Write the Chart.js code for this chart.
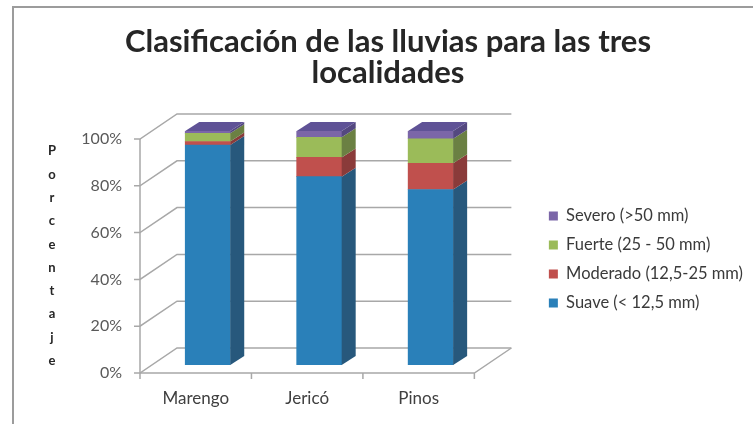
<!DOCTYPE html>
<html>
<head>
<meta charset="utf-8">
<script src="https://cdn.jsdelivr.net/npm/chart.js@4.4.1/dist/chart.umd.min.js"></script>
<style>
  html, body { margin: 0; padding: 0; background: #fff; }
</style>
</head>
<body>
<canvas id="lluviasChart" width="753" height="424"></canvas>
<script>
// datos (% de lluvias por clase)
const localidades = ['Marengo', 'Jericó', 'Pinos'];
const suave = [94, 80.5, 75];
const moderado = [1.5, 8.2, 11.2];
const fuerte = [3.5, 8.6, 10.5];
const severo = [1, 2.7, 3.3];
const yTicks = [0, 20, 40, 60, 80, 100];
const ejeY = 'Porcentaje';

const frente = ['#2A80B9', '#C0504D', '#9BBB59', '#7B66A8'];
const lados = ['#27587C', '#8A3B3A', '#6B8043', '#544880'];
const tapa = '#5F5296';

// desplazamientos del efecto 3D respecto al plano de las barras
const FRENTE = { dx: -12, dy: 8 };
const FONDO = { dx: 25, dy: -17 };
const PROF = { dx: 14, dy: -9 };

Chart.defaults.font.family = 'Lato, "Open Sans", sans-serif';

const plano3d = {
  id: 'plano3d',
  beforeDatasetsDraw(chart) {
    const { ctx, chartArea: a, scales: { x, y } } = chart;
    ctx.save();
    // marco
    ctx.strokeStyle = '#9c9c9c';
    ctx.lineWidth = 2;
    ctx.strokeRect(13, 7, chart.width, chart.height);

    ctx.strokeStyle = '#a8a8a8';
    ctx.lineWidth = 1.5;
    const fl = a.left + FRENTE.dx, fr = a.right + FRENTE.dx;
    const bl = a.left + FONDO.dx, br = a.right + FONDO.dx;
    y.ticks.forEach(t => {
      const py = y.getPixelForValue(t.value);
      ctx.beginPath();
      ctx.moveTo(fl - 6, py + FRENTE.dy);
      ctx.lineTo(fl, py + FRENTE.dy);
      ctx.lineTo(bl, py + FONDO.dy);
      ctx.lineTo(br, py + FONDO.dy);
      ctx.stroke();
    });
    const y0 = y.getPixelForValue(0), y1 = y.getPixelForValue(100);
    ctx.beginPath();
    ctx.moveTo(fl, y1 + FRENTE.dy);
    ctx.lineTo(fl, y0 + FRENTE.dy);
    ctx.lineTo(fr, y0 + FRENTE.dy);
    ctx.lineTo(br, y0 + FONDO.dy);
    const n = localidades.length;
    for (let i = 0; i <= n; i++) {
      const px = fl + (fr - fl) * i / n;
      ctx.moveTo(px, y0 + FRENTE.dy);
      ctx.lineTo(px, y0 + FRENTE.dy + 6);
    }
    ctx.stroke();

    // titulo del eje Y, letra por letra
    ctx.fillStyle = '#262626';
    ctx.font = 'bold 13px Lato, sans-serif';
    ctx.textAlign = 'center';
    ctx.textBaseline = 'middle';
    const mid = (y0 + y1) / 2 + FRENTE.dy;
    const paso = 23.3;
    const letras = ejeY.split('');
    letras.forEach((c, i) => {
      ctx.fillText(c, y.left + 29, mid + (i - (letras.length - 1) / 2) * paso);
    });
    ctx.restore();
  },
  afterDatasetsDraw(chart) {
    const ctx = chart.ctx;
    const last = chart.data.datasets.length - 1;
    ctx.save();
    chart.data.datasets.forEach((ds, i) => {
      chart.getDatasetMeta(i).data.forEach(bar => {
        const { x, y, base, width } = bar.getProps(['x', 'y', 'base', 'width'], true);
        const l = x - width / 2, r = x + width / 2;
        ctx.fillStyle = lados[i];
        ctx.beginPath();
        ctx.moveTo(r, y);
        ctx.lineTo(r + PROF.dx, y + PROF.dy);
        ctx.lineTo(r + PROF.dx, base + PROF.dy);
        ctx.lineTo(r, base);
        ctx.closePath();
        ctx.fill();
        if (i === last) {
          ctx.fillStyle = tapa;
          ctx.beginPath();
          ctx.moveTo(l, y);
          ctx.lineTo(r, y);
          ctx.lineTo(r + PROF.dx, y + PROF.dy);
          ctx.lineTo(l + PROF.dx, y + PROF.dy);
          ctx.closePath();
          ctx.fill();
        }
      });
    });
    ctx.restore();
  }
};

new Chart(document.getElementById('lluviasChart'), {
  type: 'bar',
  data: {
    labels: localidades,
    datasets: [
      { label: 'Suave (< 12,5 mm)', data: suave, backgroundColor: frente[0] },
      { label: 'Moderado (12,5-25 mm)', data: moderado, backgroundColor: frente[1] },
      { label: 'Fuerte (25 - 50 mm)', data: fuerte, backgroundColor: frente[2] },
      { label: 'Severo (>50 mm)', data: severo, backgroundColor: frente[3] }
    ]
  },
  options: {
    responsive: false,
    animation: false,
    layout: { padding: { left: 23, right: 0, top: 0, bottom: 17 } },
    datasets: { bar: { barThickness: 45, borderWidth: 0 } },
    scales: {
      x: {
        stacked: true,
        grid: { display: false, drawTicks: false },
        border: { display: false },
        afterFit: s => { s.height = 42; },
        ticks: { color: '#404040', font: { size: 17 }, padding: 23, labelOffset: -12, maxRotation: 0 }
      },
      y: {
        stacked: true,
        min: 0,
        max: 100,
        grid: { display: false, drawTicks: false },
        border: { display: false },
        afterBuildTicks: s => { s.ticks = yTicks.map(v => ({ value: v })); },
        afterFit: s => { s.width = 129; },
        ticks: {
          color: '#595959',
          font: { size: 16 },
          padding: 30,
          labelOffset: 8,
          callback: v => v + '%'
        }
      },
      relleno: {
        type: 'linear',
        position: 'right',
        grid: { display: false },
        border: { display: false },
        ticks: { display: false },
        afterFit: s => { s.width = 50; }
      }
    },
    plugins: {
      title: {
        display: true,
        text: ['Clasificación de las lluvias para las tres', 'localidades'],
        color: '#262626',
        font: { size: 31, weight: 'bold', lineHeight: 1.0 },
        padding: { top: 26, bottom: 43 }
      },
      legend: {
        position: 'right',
        fullSize: false,
        reverse: true,
        maxWidth: 320,
        title: { display: true, text: ' ', padding: 0, font: { size: 23, lineHeight: 1 } },
        labels: {
          boxWidth: 9,
          boxHeight: 9,
          padding: 12.5,
          color: '#3a3a3a',
          font: { size: 16.5 }
        }
      },
      tooltip: { enabled: false }
    }
  },
  plugins: [plano3d]
});
</script>
</body>
</html>
